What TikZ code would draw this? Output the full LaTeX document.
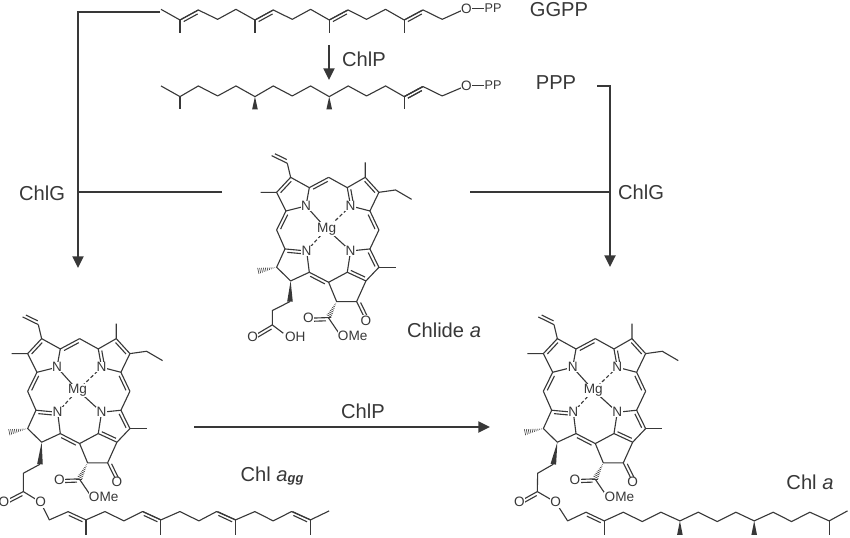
\documentclass[tikz,border=0pt]{standalone}
\usepackage{fontspec}
\setmainfont{Liberation Sans}
\usetikzlibrary{arrows.meta,positioning,calc}

\definecolor{ink}{gray}{0.22}

\tikzset{
  bond/.style={draw=ink, line width=0.95pt, line join=round},
  flow/.style={draw=ink, line width=1.7pt, -{Triangle[length=10pt,width=9.5pt]}},
  plainflow/.style={draw=ink, line width=1.7pt},
  atom/.style={font=\fontsize{11.6}{14}\selectfont, text=ink, fill=white, inner sep=0.4pt},
  lbl/.style={font=\fontsize{17.2}{20}\selectfont, text=ink},
  zoomed/.style={shift={(#1)}, x=0.01cm, y=-0.01cm}
}

% double bond, second line on the side given by the angle
\newcommand{\dbl}[3]{
  \draw[bond] (#1) -- (#2);
  \draw[bond] ($(#1)!.12!(#2)!2.7pt!#3:(#2)$) -- ($(#1)!.88!(#2)!2.7pt!#3:(#2)$);
}
\newcommand{\wedgeb}[2]{
  \fill[ink] (#1) -- ($(#2)!2.4pt!90:(#1)$) -- ($(#2)!2.4pt!-90:(#1)$) -- cycle;
}
\newcommand{\wedgeh}[2]{
  \foreach \t in {.1,.2,...,1.01}
    \draw[ink, line width=0.5pt] ($(#1)!\t!(#2)!\t*2.6pt!90:(#2)$) -- ($(#1)!\t!(#2)!\t*2.6pt!-90:(#2)$);
}

% macrocycle with ring E and its ester, in zoomed units
\newcommand{\chlorin}{
  \coordinate (a1) at (182,97);  \coordinate (a2) at (140,142); \coordinate (a3) at (168,198);
  \coordinate (a4) at (238,128); \coordinate (NA) at (228,183); \coordinate (m1) at (296,97);
  \coordinate (b1) at (352,128); \coordinate (b2) at (406,97);  \coordinate (b3) at (447,142);
  \coordinate (b4) at (420,198); \coordinate (NB) at (362,183); \coordinate (m2) at (447,255);
  \coordinate (c1) at (420,312); \coordinate (c2) at (447,367); \coordinate (c3) at (408,408);
  \coordinate (c4) at (352,382); \coordinate (NC) at (362,318);
  \coordinate (e1) at (380,470); \coordinate (e2) at (320,470); \coordinate (e3) at (296,412);
  \coordinate (d1) at (238,382); \coordinate (ND) at (230,318); \coordinate (d2) at (165,312);
  \coordinate (d3) at (140,367); \coordinate (d4) at (182,408); \coordinate (m3) at (140,255);
  \coordinate (Mg) at (290,252); \coordinate (f1) at (295,518);
  \coordinate (v1) at (172,55);  \coordinate (v2) at (125,32);
  \coordinate (Oe) at (408,527); \coordinate (Of) at (235,520);
  \draw[bond] (v1) -- (a1) -- (a4) -- (NA) -- (a3) -- (a2) -- (92,142);
  \draw[bond] (m1) -- (b1) -- (b2) -- (406,52);
  \draw[bond] (b3) -- (497,135) -- (545,163);
  \draw[bond] (b3) -- (b4) -- (NB);
  \draw[bond] (m2) -- (c1) -- (NC) -- (c4);
  \draw[bond] (c2) -- (c3) -- (e1) -- (e2) -- (e3) -- (c4);
  \draw[bond] (c2) -- (497,367);
  \draw[bond] (d1) -- (ND);
  \draw[bond] (d1) -- (d4) -- (d3) -- (d2) -- (m3);
  \draw[bond] (f1) -- (325,562);
  \dbl{v2}{v1}{90} \dbl{a1}{a2}{90} \dbl{a4}{m1}{-90} \dbl{b1}{NB}{90}
  \dbl{b2}{b3}{-90} \dbl{b4}{m2}{-90} \dbl{c1}{c2}{-90} \dbl{c4}{c3}{90}
  \dbl{e3}{d1}{90} \dbl{d2}{ND}{-90} \dbl{a3}{m3}{90}
  \dbl{e1}{Oe}{90} \dbl{f1}{Of}{90}
  \wedgeh{d3}{85,378}
  \wedgeh{e2}{f1}
  \draw[bond] (NA) -- (Mg) (NC) -- (Mg);
  \draw[bond, densely dashed] (NB) -- (Mg) (ND) -- (Mg);
  \node[atom] (atomNA) at (NA) {N};
  \node[atom] (atomNB) at (NB) {N};
  \node[atom] (atomNC) at (NC) {N};
  \node[atom] (atomND) at (ND) {N};
  \node[atom] (atomMg) at (Mg) {Mg};
  \node[atom] (atomOe) at (Oe) {O};
  \node[atom] (atomOf) at (Of) {O};
  \node[atom, anchor=west] (atomOMe) at (322,572) {OMe};
}

\begin{document}
\begin{tikzpicture}[x=0.03cm, y=-0.03cm]
\useasboundingbox (0,0) rectangle (850,537);

% ===== GGPP =====
\begin{scope}[zoomed={150,0}]
  \coordinate (ggppO) at (950,25);
  \draw[bond] (33,28) -- (90,60) -- (145,30) -- (203,58) -- (258,28) -- (315,60) -- (370,30) -- (427,58)
    -- (482,28) -- (538,60) -- (595,30) -- (650,58) -- (707,28) -- (763,60) -- (820,30) -- (877,58) -- (ggppO);
  \foreach \x in {90,315,538,763} {
    \draw[bond] (\x,60) -- (\x,100);
    \dbl{\x,60}{\x+55,30}{-90}
  }
  \node[atom] (ggppOx) at (ggppO) {O};
  \node[atom, font=\fontsize{10.8}{12}\selectfont] (ggppPP) at (1030,25) {PP};
  \draw[bond] (ggppOx) -- (ggppPP);
\end{scope}

% ===== PPP =====
\begin{scope}[zoomed={150,0}]
  \coordinate (pppO) at (950,257);
  \draw[bond] (33,258) -- (90,290) -- (145,258) -- (203,288) -- (258,258) -- (315,290) -- (370,258) -- (427,288)
    -- (482,258) -- (538,290) -- (595,258) -- (650,288) -- (707,258) -- (763,290) -- (820,260) -- (877,288) -- (pppO);
  \draw[bond] (90,290) -- (90,328) (763,290) -- (763,328);
  \foreach \x in {315,538} \wedgeb{\x,290}{\x,328}
  \dbl{763,290}{818,260}{-90}
  \node[atom] (pppOx) at (pppO) {O};
  \node[atom, font=\fontsize{10.8}{12}\selectfont] (pppPP) at (1030,257) {PP};
  \draw[bond] (pppOx) -- (pppPP);
\end{scope}

% ===== Chlide a =====
\begin{scope}[zoomed={230,145}, name prefix=chlide-]
  \chlorin
  \wedgeb{d4}{180,470}
  \coordinate (p3) at (127,540); \coordinate (Oa) at (68,575);
  \draw[bond] (180,470) -- (127,497) -- (p3) -- (160,565);
  \dbl{p3}{Oa}{90}
  \node[atom] (atomOa) at (Oa) {O};
  \node[atom, anchor=west] (atomOH) at (163,575) {OH};
\end{scope}

% ===== Chl a_gg =====
\begin{scope}[zoomed={-19,306.3}, name prefix=agg-]
  \chlorin
  \wedgeb{d4}{177,474}
\end{scope}
\begin{scope}[zoomed={0,305}]
  \coordinate (aggC) at (70,560); \coordinate (aggOd) at (12,590); \coordinate (aggOs) at (122,592);
  \draw[bond] (120,478) -- (70,505) -- (aggC) -- (aggOs) -- (148,645) -- (205,620);
  \dbl{aggC}{aggOd}{90}
  \draw[bond] (258,645) -- (315,620) -- (372,648) -- (428,620) -- (483,645) -- (540,620) -- (597,648)
    -- (650,620) -- (707,645) -- (765,620) -- (820,648) -- (875,620) -- (932,645) -- (988,618);
  \foreach \x in {258,483,707,932} {
    \draw[bond] (\x,645) -- (\x,690);
    \dbl{\x-54,620}{\x,645}{-90}
  }
  \node[atom] (aggOdb) at (aggOd) {O};
  \node[atom] (aggOsb) at (aggOs) {O};
\end{scope}

% ===== Chl a =====
\begin{scope}[zoomed={496.7,306.3}, name prefix=phy-]
  \chlorin
  \wedgeb{d4}{170,474}
\end{scope}
\begin{scope}[zoomed={500,305}]
  \coordinate (phyC) at (112,560); \coordinate (phyOd) at (58,590); \coordinate (phyOs) at (167,592);
  \draw[bond] (160,478) -- (113,505) -- (phyC) -- (phyOs) -- (203,648) -- (258,622);
  \dbl{phyC}{phyOd}{90}
  \dbl{258,622}{313,648}{-90}
  \draw[bond] (313,648) -- (370,622) -- (427,650) -- (483,622) -- (540,648) -- (595,622) -- (652,650)
    -- (708,622) -- (763,648) -- (820,622) -- (875,650) -- (930,622) -- (988,648) -- (1043,618);
  \draw[bond] (313,648) -- (313,690) (988,648) -- (988,690);
  \foreach \x in {540,763} \wedgeb{\x,648}{\x,690}
  \node[atom] (phyOdb) at (phyOd) {O};
  \node[atom] (phyOsb) at (phyOs) {O};
\end{scope}

% ===== arrows =====
\coordinate (ggppEnd) at (160,12);
\coordinate (leftDown) at (78,268);
\coordinate (leftIn) at (222,192);
\coordinate (leftJoin) at (78,192);
\coordinate (pppEnd) at (597,86);
\coordinate (rightDown) at (610,267);
\coordinate (rightIn) at (470,192);
\coordinate (rightJoin) at (610,192);
\coordinate (chlpTop) at (329,45);
\coordinate (chlpEnd) at (329,80);
\coordinate (chlpLeft) at (194,427);
\coordinate (chlpRight) at (490,427);

\draw[flow] (ggppEnd) -| (leftDown);
\draw[plainflow] (leftIn) -- (leftJoin);
\draw[flow] (pppEnd) -| (rightDown);
\draw[plainflow] (rightIn) -- (rightJoin);
\draw[flow] (chlpTop) -- (chlpEnd);
\draw[flow] (chlpLeft) -- (chlpRight);

% ===== labels =====
\node[lbl] (ggppLabel) at (559,10) {GGPP};
\node[lbl] (pppLabel) at (556,83) {PPP};
\node[lbl] (chlpTopLabel) at (364,59) {ChlP};
\node[lbl] (chlpLabel) at (363,411) {ChlP};
\node[lbl] (chlGleft) at (42,193) {ChlG};
\node[lbl] (chlGright) at (641,192) {ChlG};
\node[lbl] (chlideLabel) at (444,330) {Chlide \textit{a}};
\node[lbl] (aggLabel) at (272,476) {Chl \textit{a}\raisebox{-1pt}{\fontsize{11}{12}\selectfont\bfseries\itshape gg}};
\node[lbl] (chlaLabel) at (810,482) {Chl \textit{a}};
\end{tikzpicture}
\end{document}
